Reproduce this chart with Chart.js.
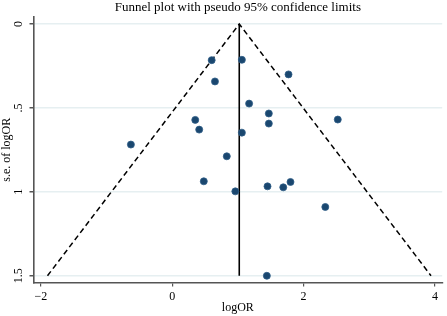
<!DOCTYPE html>
<html>
<head>
<meta charset="utf-8">
<script src="https://cdn.jsdelivr.net/npm/chart.js@4/dist/chart.umd.min.js"></script>
<style>
  body { margin: 0; background: #fff; }
  canvas { display: block; }
</style>
</head>
<body>
<canvas id="funnel" width="447" height="316"></canvas>
<script>
// study estimates: log odds ratio and its standard error
const logOR = [0.60, 1.06, 1.77, 0.65, 1.17, 1.47, 2.52, 0.35, 1.47, 0.41,
               1.06, -0.63, 0.83, 0.48, 0.96, 1.45, 1.69, 1.80, 2.33, 1.44]
const seLogOR = [0.215, 0.213, 0.30, 0.342, 0.474, 0.533, 0.569, 0.571, 0.593, 0.629,
                 0.647, 0.718, 0.788, 0.937, 0.997, 0.967, 0.973, 0.941, 1.09, 1.50]

// pooled estimate and pseudo 95% limits
const pooledX = [1.02, 1.02]
const pooledY = [0, 1.5]
const limitX = [-1.90, 1.02, 3.94]
const limitY = [1.5, 0, 1.5]

const xTicks = [-2, 0, 2, 4]
const xTickLabels = ['\u22122', '0', '2', '4']
const yTicks = [0, 0.5, 1, 1.5]
const yTickLabels = ['0', '.5', '1', '1.5']

const serif = 'Liberation Serif, Times New Roman, serif'
const axisColor = '#555555'
const gridColor = '#e6eff1'
const navy = '#1a476f'

const zip = (xs, ys) => xs.map((x, i) => ({ x: x, y: ys[i] }))

const canvas = document.getElementById('funnel')
new Chart(canvas.getContext('2d'), {
  type: 'scatter',
  data: {
    datasets: [
      {
        label: 'Studies',
        data: zip(logOR, seLogOR),
        backgroundColor: navy,
        borderColor: '#2f5d87',
        borderWidth: 0.8,
        pointRadius: 3.5
      },
      {
        label: 'Pooled',
        type: 'line',
        data: zip(pooledX, pooledY),
        borderColor: '#000',
        borderWidth: 1.6,
        pointRadius: 0,
        fill: false
      },
      {
        label: 'Pseudo 95% CI',
        type: 'line',
        data: zip(limitX, limitY),
        borderColor: '#000',
        borderWidth: 1.5,
        borderDash: [5.5, 3.5],
        pointRadius: 0,
        fill: false
      }
    ]
  },
  options: {
    responsive: false,
    animation: false,
    layout: { padding: { left: 0, right: 2, top: 0, bottom: 0 } },
    plugins: {
      legend: { display: false },
      tooltip: { enabled: false },
      title: {
        display: true,
        fullSize: false,
        text: 'Funnel plot with pseudo 95% confidence limits',
        color: '#000',
        font: { family: serif, size: 13, weight: 'normal', lineHeight: 1.2 },
        padding: { top: 0, bottom: 1.4 }
      }
    },
    scales: {
      x: {
        type: 'linear',
        min: -2.113,
        max: 4.11,
        afterBuildTicks: (s) => { s.ticks = xTicks.map((v) => ({ value: v })) },
        afterFit: (s) => { s.height = 33.5 },
        ticks: {
          color: '#000',
          font: { family: serif, size: 12 },
          padding: 3,
          maxRotation: 0,
          callback: (v) => xTickLabels[xTicks.indexOf(v)]
        },
        grid: {
          drawOnChartArea: false,
          drawTicks: true,
          tickLength: 4,
          color: axisColor,
          lineWidth: 1.2
        },
        border: { color: axisColor, width: 1.6 },
        title: {
          display: true,
          text: 'logOR',
          color: '#000',
          font: { family: serif, size: 12, lineHeight: 1.2 },
          padding: { top: 0, bottom: 1 }
        }
      },
      y: {
        type: 'linear',
        reverse: true,
        min: -0.042,
        max: 1.54,
        afterBuildTicks: (s) => { s.ticks = yTicks.map((v) => ({ value: v })) },
        afterFit: (s) => { s.width = 33.5 },
        ticks: {
          color: '#000',
          font: { family: serif, size: 12 },
          padding: 3,
          minRotation: 90,
          maxRotation: 90,
          crossAlign: 'center',
          callback: (v) => yTickLabels[yTicks.indexOf(v)]
        },
        grid: {
          drawOnChartArea: true,
          drawTicks: true,
          tickLength: 4,
          color: gridColor,
          tickColor: axisColor,
          lineWidth: 1.5
        },
        border: { color: axisColor, width: 1.6 },
        title: {
          display: true,
          text: 's.e. of logOR',
          color: '#000',
          font: { family: serif, size: 12, lineHeight: 1.2 },
          padding: { top: 0, bottom: 0 }
        }
      }
    }
  }
})
</script>
</body>
</html>
